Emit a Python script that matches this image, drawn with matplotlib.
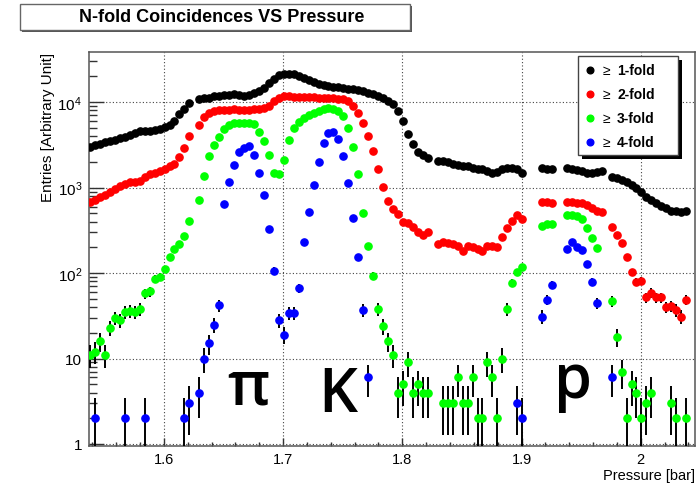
import numpy as np
import matplotlib
matplotlib.use('Agg')
import matplotlib.pyplot as plt
from matplotlib.patches import Rectangle
from matplotlib.lines import Line2D
from matplotlib.ticker import FixedLocator, MultipleLocator, LogLocator, FuncFormatter, NullFormatter

plt.rcParams['font.family'] = ['Liberation Sans', 'DejaVu Sans']
plt.rcParams['mathtext.fontset'] = 'custom'
plt.rcParams['mathtext.rm'] = 'Liberation Sans'

nan = float('nan')

# bin centres of the pressure scan [bar], 121 bins of 1/240 bar
pressure = np.round(1.53808 + np.arange(121) / 240.0, 5)

# >= 1-fold
fold1 = [
    3030, 3150, 3260, 3380, 3500, 3640, 3790, 3950, 4150, 4340,
    4600, 4550, 4650, 4700, 4830, 5060, 5380, 6040, 7240, 8280,
    9910, nan, 10800, 11100, 11350, 11700, 11860, 12100, 12200, 12500,
    12300, 11860, 12300, 12980, 13580, 14860, 16680, 18930, 20700, 21640,
    21400, 21100, 20300, 19400, 18240, 17290, 16380, 15810, 15530, 15250,
    15100, 14860, 14460, 14200, 13810, 13450, 12980, 12510, 11860, 11350,
    10360, 9480, 7900, 6000, 4230, 3230, 2580, 2430, 2230, nan,
    2060, 2060, 1970, 1870, 1840, 1800, 1800, 1720, 1640, 1640,
    1570, 1480, 1530, 1640, 1720, 1720, 1640, 1500, nan, nan,
    nan, 1720, 1640, 1640, nan, nan, 1680, 1640, 1610, 1570,
    1500, 1500, 1530, 1570, nan, 1350, 1280, 1220, 1170, 1070,
    1000, 900, 780, 720, 665, 610, 580, 535, 535, 521,
    530,
]

# >= 2-fold
fold2 = [
    682, 725, 768, 830, 893, 970, 1050, 1100, 1150, 1170,
    1200, 1320, 1440, 1500, 1570, 1640, 1770, 1880, 2260, 2950,
    4030, nan, 5400, 6700, 7400, 7800, 8000, 8100, 8200, 8280,
    8200, 8100, 8200, 8300, 8300, 8500, 9060, 10360, 11350, 11860,
    11860, 11650, 11650, 11550, 11550, 11440, 11350, 11350, 11250, 11140,
    11000, 11000, 10360, 9060, 7570, 5770, 4030, 2700, 1640, 1030,
    701, 561, 490, 392, 385, 342, 304, 278, 304, nan,
    218, 232, 225, 218, 208, 180, 205, 200, 194, 182,
    208, 206, 204, 261, 333, 409, 477, 428, nan, nan,
    nan, 682, 682, 659, nan, nan, 682, 682, 670, 659,
    624, 571, 535, 513, nan, 342, 278, 224, 153, 102,
    79, 81, 52, 59, 52, 52, 40, 41, 37, 31,
    49,
]

# >= 3-fold
fold3 = [
    11, 12, 16, 11, 23, 30, 28, 35, 36, 35,
    38, 58, 61, 85, 90, 112, 155, 192, 222, 273,
    409, nan, 710, 1360, 2320, 3190, 3930, 4900, 5380, 5680,
    5780, 5680, 5680, 5530, 4520, 3530, 2380, 1500, 1460, 2130,
    3600, 4950, 5900, 6620, 7140, 7430, 7920, 8280, 8440, 8280,
    7920, 6850, 5000, 3030, 1440, 500, 205, 93, 38, 24,
    16, 11, 4, 5, 9, 4, 5, 4, 4, nan,
    nan, 3, 3, 3, 6, 3, 3, 6, 2, 2,
    9, 6, 2, 10, 38, 77, 102, 117, nan, nan,
    nan, 357, 374, 374, nan, nan, 477, 477, 460, 428,
    340, 255, 197, nan, nan, 47, 18, 7, 2, 5,
    4, 2, 3, 4, nan, nan, nan, 3, 2, nan,
    2,
]

# >= 4-fold
fold4 = [
    nan, 2, nan, nan, nan, nan, nan, 2, nan, nan,
    nan, 2, nan, nan, nan, nan, nan, nan, nan, 2,
    3, nan, 4, 10, 15, 25, 42, 641, 1170, 1830,
    2620, 2950, 3050, 2420, 1500, 817, 327, 106, 28, 19,
    34, 34, 67, 232, 521, 1070, 2000, 3310, 4340, 4500,
    3690, 2350, 1130, 436, 153, 37, 6, nan, nan, nan,
    nan, nan, nan, nan, nan, nan, nan, nan, nan, nan,
    nan, nan, nan, nan, nan, nan, nan, nan, nan, nan,
    nan, nan, nan, nan, nan, nan, 3, 2, nan, nan,
    nan, 31, 49, 73, nan, nan, 192, 230, 200, 187,
    127, 79, 45, nan, nan, 6, nan, nan, nan, nan,
    nan, nan, nan, nan, nan, nan, nan, nan, nan, nan,
    nan,
]

series = [
    (fold1, '#000000', '1-fold'),
    (fold2, '#ff0000', '2-fold'),
    (fold3, '#00ff00', '3-fold'),
    (fold4, '#0000ff', '4-fold'),
]

W, H = 700, 485


def fx(px):
    return px / W


def fy(py):
    return 1 - py / H


fig = plt.figure(figsize=(7, 4.85), dpi=100)
ax = fig.add_axes([fx(89), fy(446.5), fx(695) - fx(89), fy(52.7) - fy(446.5)])

for vals, col, name in series:
    y = np.array(vals, dtype=float)
    ax.errorbar(pressure, y, yerr=np.sqrt(y), fmt='o', color=col, ms=5.2,
                mec=col, ecolor='black', elinewidth=1.4, capsize=0, zorder=3)

ax.set_yscale('log')
ax.set_xlim(1.5372, 2.0455)
ax.set_ylim(0.96, 3.9e4)

ax.xaxis.set_major_locator(FixedLocator([1.6, 1.7, 1.8, 1.9, 2.0]))
ax.xaxis.set_minor_locator(MultipleLocator(0.02))
ax.xaxis.set_major_formatter(FuncFormatter(lambda v, p: f'{v:g}'))


def ylab(v, p):
    if v == 1:
        return '1'
    if v == 10:
        return '10'
    return r'$\mathregular{10^{%d}}$' % round(np.log10(v))


ax.yaxis.set_major_locator(LogLocator(base=10, numticks=10))
ax.yaxis.set_minor_locator(LogLocator(base=10, subs=np.arange(2, 10), numticks=20))
ax.yaxis.set_major_formatter(FuncFormatter(ylab))
ax.yaxis.set_minor_formatter(NullFormatter())

ax.tick_params(axis='x', which='major', direction='in', length=6, width=1,
               labelsize=10.5, pad=5, color='#333333')
ax.tick_params(axis='x', which='minor', direction='in', length=3, width=1, color='#333333')
ax.tick_params(axis='y', which='major', direction='in', length=11, width=1,
               labelsize=11, pad=5, color='#333333')
ax.tick_params(axis='y', which='minor', direction='in', length=6, width=1, color='#333333')

ax.grid(True, which='major', linestyle=(0, (1, 2)), color='#444444', linewidth=0.8, zorder=0)
ax.set_axisbelow(True)
for s in ax.spines.values():
    s.set_color('#555555')
    s.set_linewidth(1.1)

# big particle labels
big = dict(family=['Open Sans', 'DejaVu Sans'], fontsize=44, fontweight='semibold',
           ha='center', va='baseline', zorder=5)
ax.text(1.6706, 2.95, 'π', **big)
ax.text(1.7455, 2.43, 'K', **big)
ax.text(1.943, 3.55, 'p', **big)

# axis titles
fig.text(fx(48), fy(53), 'Entries [Arbitrary Unit]', rotation=90, ha='center', va='top',
         fontsize=11)
fig.text(fx(695), fy(476), 'Pressure [bar]', ha='right', va='center', fontsize=10.5)

# title box
fig.patches.append(Rectangle((fx(22), fy(33)), fx(390), fy(0) - fy(26),
                             transform=fig.transFigure, facecolor='#555555',
                             edgecolor='none', zorder=1))
fig.patches.append(Rectangle((fx(20), fy(31)), fx(390), fy(0) - fy(26),
                             transform=fig.transFigure, facecolor='white',
                             edgecolor='#666666', linewidth=1, zorder=2))
fig.text(fx(222), fy(18), 'N-fold Coincidences VS Pressure', ha='center', va='center',
         fontsize=13, fontweight='bold', zorder=3)

# legend box with shadow
fig.patches.append(Rectangle((fx(582), fy(160)), fx(100), fy(0) - fy(99),
                             transform=fig.transFigure, facecolor='black',
                             edgecolor='none', zorder=6))
fig.patches.append(Rectangle((fx(578), fy(156)), fx(100), fy(0) - fy(99),
                             transform=fig.transFigure, facecolor='white',
                             edgecolor='#444444', linewidth=1, zorder=7))
rows = [71, 95, 119, 143]
for (vals, col, name), py in zip(series, rows):
    fig.lines.append(Line2D([fx(590)], [fy(py)], transform=fig.transFigure, marker='o',
                            color=col, ms=4.8, linestyle='none', zorder=8))
    fig.text(fx(603), fy(py), '≥', ha='left', va='center', fontsize=10, zorder=8)
    fig.text(fx(617), fy(py), name, ha='left', va='center', fontsize=10,
             fontweight='bold', zorder=8)

fig.savefig('out.png', dpi=100)
